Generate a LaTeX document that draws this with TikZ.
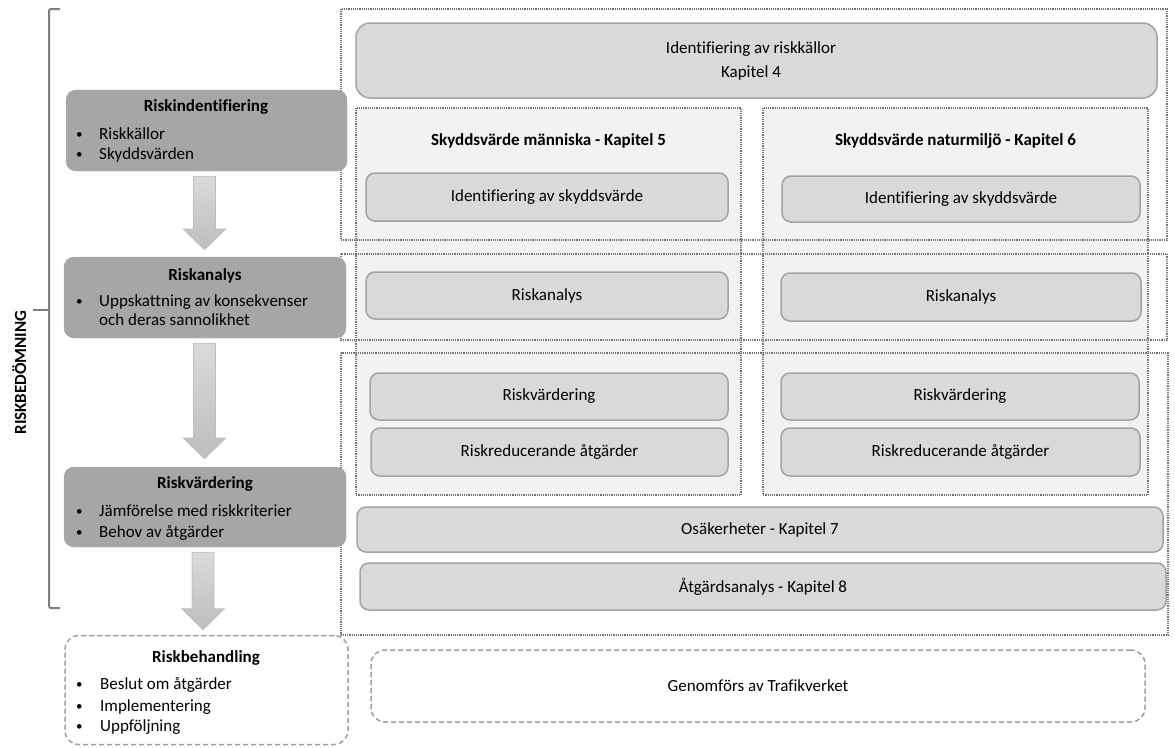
\documentclass[tikz,border=0pt]{standalone}
\usepackage{fontspec}
\setmainfont{Carlito}[Ligatures=NoCommon]
\usetikzlibrary{calc}

\definecolor{darkfill}{HTML}{A6A6A6}
\definecolor{boxfill}{HTML}{D9D9D9}
\definecolor{boxline}{HTML}{A3A3A3}
\definecolor{panelfill}{HTML}{F2F2F2}
\definecolor{dotline}{HTML}{747474}
\definecolor{dashline}{HTML}{A0A0A0}
\definecolor{bracketgray}{HTML}{7F7F7F}
\definecolor{arrowtop}{HTML}{DADADA}
\definecolor{arrowbottom}{HTML}{BDBDBD}

% block arrow from a start point (top of shaft) down to a tip
\newcommand\blockarrow[2]{%
  \path[blockarr] let \p1=(#1), \p2=(#2) in
    (\x1-11pt,\y1) -- (\x1+11pt,\y1) -- (\x1+11pt,\y2+21pt) -- (\x1+21.5pt,\y2+21pt)
    -- (\x1,\y2) -- (\x1-21.5pt,\y2+21pt) -- (\x1-11pt,\y2+21pt) -- cycle;}

\begin{document}
\begin{tikzpicture}[x=1pt,y=-1pt,
  every node/.style={font=\fontsize{17}{21}\selectfont, text=black},
  stagebox/.style={fill=darkfill, draw=darkfill, rounded corners=10pt, inner sep=0pt},
  treatbox/.style={draw=dashline, line width=1.5pt, dash pattern=on 5pt off 3pt, rounded corners=14pt, inner sep=0pt},
  infobox/.style={fill=boxfill, draw=boxline, line width=1.5pt, rounded corners=9pt, inner sep=0pt},
  colpanel/.style={fill=panelfill},
  dotframe/.style={draw=dotline, line width=1.2pt, dash pattern=on 1.2pt off 1pt},
  ttl/.style={font=\fontsize{17}{21}\selectfont\bfseries, inner sep=0pt, anchor=base},
  txt/.style={inner sep=0pt, anchor=base west},
  dot/.style={inner sep=0pt, anchor=base west, font=\fontsize{13}{21}\selectfont},
  ctxt/.style={inner sep=0pt, anchor=base},
  blockarr/.style={top color=arrowtop, bottom color=arrowbottom, draw=arrowbottom, line width=0.6pt},
  bracket/.style={draw=bracketgray, line width=2pt, rounded corners=2pt}
]
\useasboundingbox (0,0) rectangle (1175,747);

% ---- column panels (fill) ----
\fill[colpanel] (356,108) rectangle (741,495);
\fill[colpanel] (763,108) rectangle (1148,495);

% ---- dotted frames ----
\draw[dotframe] (341,9) rectangle (1167,240);
\draw[dotframe] (341,254) rectangle (1167,340);
\draw[dotframe] (341,353) rectangle (1168,635);
\draw[dotframe] (356,108) rectangle (741,495);
\draw[dotframe] (763,108) rectangle (1148,495);

% ---- bracket and side label ----
\draw[bracket] (60,9) -- (49,9) -- (49,608) -- (60,608);
\draw[draw=bracketgray, line width=2pt] (33,310) -- (49,310);
\node[rotate=90, anchor=base, inner sep=0pt, font=\fontsize{17}{21}\selectfont\bfseries] (rb-label) at (26,372.5) {RISKBEDÖMNING};

% ---- left stage boxes ----
\node[stagebox, minimum width=281pt, minimum height=81pt] (ri) at (206.5,130.5) {};
\node[ttl] (ri-t) at (206,111) {Riskindentifiering};
\node[dot] (ri-b1) at (76,138) {•};
\node[txt] (ri-l1) at (99,139) {Riskkällor};
\node[dot] (ri-b2) at (76,158) {•};
\node[txt] (ri-l2) at (99,159) {Skyddsvärden};

\node[stagebox, minimum width=282pt, minimum height=81pt] (ra) at (205,297.5) {};
\node[ttl] (ra-t) at (205,280) {Riskanalys};
\node[dot] (ra-b1) at (76,305) {•};
\node[txt] (ra-l1) at (99,306) {Uppskattning av konsekvenser};
\node[txt] (ra-l2) at (99,325) {och deras sannolikhet};

\node[stagebox, minimum width=282pt, minimum height=80pt] (rv) at (205,507) {};
\node[ttl] (rv-t) at (205,488) {Riskvärdering};
\node[dot] (rv-b1) at (76,515) {•};
\node[txt] (rv-l1) at (99,516) {Jämförelse med riskkriterier};
\node[dot] (rv-b2) at (76,536) {•};
\node[txt] (rv-l2) at (99,537) {Behov av åtgärder};

\node[treatbox, minimum width=283pt, minimum height=109pt] (rb) at (206.5,690) {};
\node[ttl] (rb-t) at (206,662) {Riskbehandling};
\node[dot] (rb-b1) at (76,688) {•};
\node[txt] (rb-l1) at (100,689) {Beslut om åtgärder};
\node[dot] (rb-b2) at (76,710) {•};
\node[txt] (rb-l2) at (100,711) {Implementering};
\node[dot] (rb-b3) at (76,730) {•};
\node[txt] (rb-l3) at (100,731) {Uppföljning};

% ---- block arrows between stages ----
\coordinate (a1s) at ($(ri.south)+(-2,5)$);
\coordinate (a1e) at ($(ra.north)+(-0.5,-7)$);
\coordinate (a2s) at ($(ra.south)+(-0.5,5)$);
\coordinate (a2e) at ($(rv.north)+(-0.5,-8)$);
\coordinate (a3s) at ($(rv.south)+(-2,5)$);
\coordinate (a3e) at ($(rb.north)+(-3.5,-5)$);
\blockarrow{a1s}{a1e}
\blockarrow{a2s}{a2e}
\blockarrow{a3s}{a3e}

% ---- right side: chapters ----
\node[infobox, rounded corners=14pt, minimum width=801pt, minimum height=75pt] (src) at (756.5,60.5) {};
\node[ctxt] (src-l1) at (751,53) {Identifiering av riskkällor};
\node[ctxt] (src-l2) at (751,77) {Kapitel 4};

\node[ttl] (hum) at (548.5,145) {Skyddsvärde människa - Kapitel 5};
\node[ttl] (nat) at (955.5,145) {Skyddsvärde naturmiljö - Kapitel 6};

\node[infobox, minimum width=362pt, minimum height=48pt] (hum-id) at (547,197) {Identifiering av skyddsvärde};
\node[infobox, minimum width=358pt, minimum height=46pt] (nat-id) at (961,199) {Identifiering av skyddsvärde};
\node[infobox, minimum width=362pt, minimum height=47pt] (hum-ra) at (547,295.5) {Riskanalys};
\node[infobox, minimum width=360pt, minimum height=48pt] (nat-ra) at (961,297) {Riskanalys};
\node[infobox, minimum width=358pt, minimum height=47pt] (hum-rv) at (549,396.5) {Riskvärdering};
\node[infobox, minimum width=358pt, minimum height=47pt] (nat-rv) at (960,396.5) {Riskvärdering};
\node[infobox, minimum width=357pt, minimum height=48pt] (hum-rr) at (549.5,452) {Riskreducerande åtgärder};
\node[infobox, minimum width=359pt, minimum height=48pt] (nat-rr) at (960.5,452) {Riskreducerande åtgärder};

\node[infobox, minimum width=806pt, minimum height=45pt] (unc) at (760,529.5) {Osäkerheter - Kapitel 7};
\node[infobox, minimum width=806pt, minimum height=47pt] (act) at (763,586.5) {Åtgärdsanalys - Kapitel 8};

\node[treatbox, minimum width=774pt, minimum height=72pt] (trv) at (758,686) {Genomförs av Trafikverket};
\end{tikzpicture}
\end{document}
